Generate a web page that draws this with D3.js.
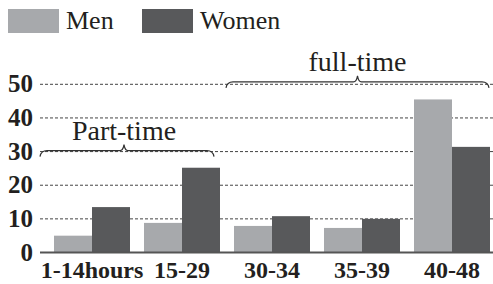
<!DOCTYPE html>
<html><head><meta charset="utf-8">
<script src="https://cdn.jsdelivr.net/npm/d3@7"></script>
<style>body{margin:0;background:#fff}svg{display:block}</style>
</head><body><svg id="c" width="493" height="284"></svg>
<script>
const categories = ["1-14hours","15-29","30-34","35-39","40-48"];
const seriesNames = ["Men","Women"];
const men = [5, 8.8, 7.9, 7.3, 45.5];
const women = [13.5, 25.2, 10.8, 10.0, 31.4];
const yTicks = [0,10,20,30,40,50];
const colors = ["#a7a9ac","#58595b"];
const braces = [{label:"Part-time", from:"1-14hours", to:"15-29", level:30},
                {label:"full-time", from:"30-34", to:"40-48", level:50}];

const svg = d3.select("#c");
const FF = "Liberation Serif";
const ink = "#231f20";
const x = d3.scaleBand().domain(categories).range([47,497]).paddingInner(14/90).paddingOuter(7/90);
const xs = d3.scaleBand().domain(seriesNames).range([0,x.bandwidth()]);
const y = d3.scaleLinear().domain([0,50]).range([252.5,84.3]);

// gridlines
svg.append("g").selectAll("line").data(yTicks.filter(d=>d>0)).join("line")
  .attr("x1",40).attr("x2",493).attr("y1",d=>y(d)).attr("y2",d=>y(d))
  .attr("stroke","#444").attr("stroke-width",1).attr("stroke-dasharray","3,2");

// y labels
svg.append("g").selectAll("text").data(yTicks).join("text")
  .attr("x",33).attr("y",d=>y(d)+8).attr("text-anchor","end")
  .attr("font-family",FF).attr("font-weight","bold").attr("font-size",25).attr("fill",ink)
  .text(d=>d);

// bars
const data = categories.map((c,i)=>({c, vals:[men[i],women[i]]}));
svg.append("g").selectAll("g").data(data).join("g")
  .attr("transform",d=>`translate(${x(d.c)},0)`)
  .selectAll("rect").data(d=>d.vals.map((v,j)=>({v,s:seriesNames[j],j}))).join("rect")
  .attr("x",d=>xs(d.s)).attr("width",xs.bandwidth())
  .attr("y",d=>y(d.v)).attr("height",d=>y(0)-y(d.v))
  .attr("fill",d=>colors[d.j]);

// baseline
svg.append("line").attr("x1",40).attr("x2",493).attr("y1",y(0)).attr("y2",y(0))
  .attr("stroke","#555").attr("stroke-width",2);

// x labels
svg.append("g").selectAll("text").data(categories).join("text")
  .attr("x",d=>x(d)+x.bandwidth()/2).attr("y",278).attr("text-anchor","middle")
  .attr("font-family",FF).attr("font-weight","bold").attr("font-size",24).attr("fill",ink)
  .text(d=>d);

// braces
braces.forEach((b,i)=>{
  const x0 = i===0 ? 40 : x(b.from)-8;
  const x1 = x(b.to)+x.bandwidth()-(i===0?6:1);
  const yl = y(b.level)+ (i===0?-1:-2.5);
  const xm = (x0+x1)/2 - (i===0?3:0);
  const p = d3.path();
  p.moveTo(x0, yl+6);
  p.quadraticCurveTo(x0+1, yl, x0+7, yl);
  p.lineTo(xm-4, yl);
  p.quadraticCurveTo(xm-1, yl, xm, yl-6);
  p.quadraticCurveTo(xm+1, yl, xm+4, yl);
  p.lineTo(x1-7, yl);
  p.quadraticCurveTo(x1-1, yl, x1, yl+6);
  svg.append("path").attr("d",p.toString()).attr("fill","none").attr("stroke","#333").attr("stroke-width",1.2);
  svg.append("text").attr("x",xm).attr("y",yl-11).attr("text-anchor","middle")
    .attr("font-family",FF).attr("font-size",28).attr("fill",ink).text(b.label);
});

// legend
const lg = svg.append("g");
const lx = [8,142];
seriesNames.forEach((s,i)=>{
  lg.append("rect").attr("x",lx[i]).attr("y",9).attr("width",51).attr("height",24).attr("fill",colors[i]);
  lg.append("text").attr("x",lx[i]+58).attr("y",28.5).attr("font-family",FF).attr("font-size",26)
    .attr("fill",ink).text(s);
});
</script></body></html>
